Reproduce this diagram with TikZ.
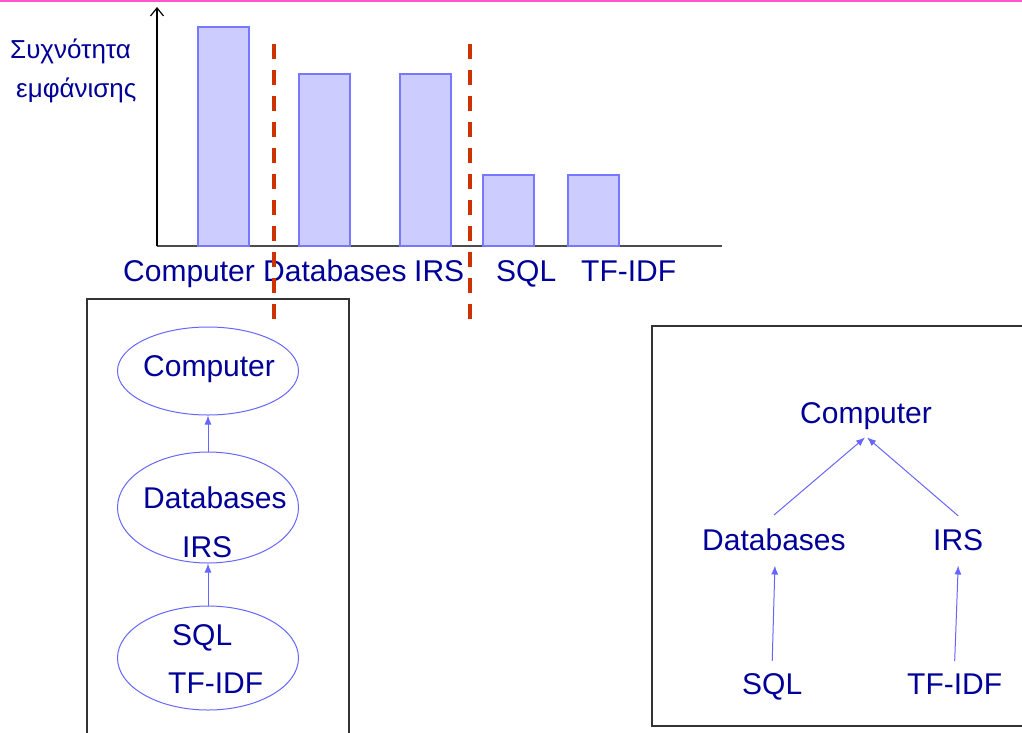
\documentclass[tikz,border=0pt]{standalone}
\usepackage{fontspec}
\setmainfont{Liberation Sans}
\usetikzlibrary{shapes.geometric,arrows.meta,calc}
\definecolor{navy}{HTML}{000099}
\definecolor{barfill}{HTML}{CCCCFF}
\definecolor{barline}{HTML}{7777FF}
\definecolor{linkblue}{HTML}{6666FF}
\definecolor{cutred}{HTML}{CC3300}
\definecolor{topline}{HTML}{FF55CC}
\tikzset{
  lbl/.style={font=\fontsize{30}{36}\selectfont, text=navy, inner sep=0pt, anchor=base west},
  greek/.style={font=\fontsize{26}{31}\selectfont, text=navy, inner sep=0pt, anchor=base west},
  bar/.style={fill=barfill, draw=barline, line width=1.2pt},
  cut/.style={draw=cutred, line width=3.5pt, dash pattern=on 15pt off 11pt},
  oval/.style={ellipse, draw=linkblue, line width=1pt, minimum width=181pt, inner sep=0pt},
  link/.style={draw=linkblue, line width=1pt, -{Latex[length=9pt,width=7pt]}},
  frame/.style={draw=black!80, line width=1.3pt},
}
\begin{document}
\begin{tikzpicture}[x=1pt,y=-1pt]
\useasboundingbox (0,0) rectangle (1022,732);
% top rule
\draw[topline, line width=2pt] (0,1) -- (1022,1);
% axes
\draw[black!70, line width=1.3pt] (157,246) -- (722,246);
\draw[black, line width=1.2pt, -{Straight Barb[length=8pt,width=13pt]}] (157,246) -- (157,7);
% bars
\draw[bar] (198,27) rectangle (249,246);
\draw[bar] (299,74) rectangle (350,246);
\draw[bar] (400,74) rectangle (451,246);
\draw[bar] (483,175) rectangle (534,246);
\draw[bar] (568,175) rectangle (619,246);
% y label
\node[greek] (yl1) at (10,58) {Συχνότητα};
\node[greek] (yl2) at (16,97) {εμφάνισης};
% x labels
\node[lbl] (xc) at (123,281) {Computer};
\node[lbl] (xd) at (263,281) {Databases};
\node[lbl] (xi) at (414,281) {IRS};
\node[lbl] (xs) at (496,281) {SQL};
\node[lbl] (xt) at (581,281) {TF-IDF};
% boxes
\draw[frame] (87,299) rectangle (349,745);
\draw[frame] (652,326) rectangle (1026,726);
% cut lines
\draw[cut] (274,44) -- (274,326);
\draw[cut] (470,44) -- (470,326);
% left: clusters
\node[oval, minimum height=88pt] (e1) at (208,371) {};
\node[oval, minimum height=111pt] (e2) at (208,507.5) {};
\node[oval, minimum height=104pt] (e3) at (208,658) {};
\node[lbl] (e1a) at (143,376) {Computer};
\node[lbl] (e2a) at (143,508) {Databases};
\node[lbl] (e2b) at (182,557) {IRS};
\node[lbl] (e3a) at (172,645) {SQL};
\node[lbl] (e3b) at (168,693) {TF-IDF};
\draw[link] (e2.north) -- (e1.south);
\draw[link] (e3.north) -- (e2.south);
% right: tree
\node[lbl] (rc) at (800,423) {Computer};
\node[lbl] (rd) at (702,550) {Databases};
\node[lbl] (ri) at (933,550) {IRS};
\node[lbl] (rs) at (742,694) {SQL};
\node[lbl] (rt) at (907,694) {TF-IDF};
\draw[link] ($(rd.north)+(0,-13)$) -- ($(rc.south)+(-1,8)$);
\draw[link] ($(ri.north)+(0,-13)$) -- ($(rc.south)+(1,8)$);
\draw[link] ($(rs.north)+(0,-12)$) -- ($(rd.south)+(1,15)$);
\draw[link] ($(rt.north)+(0,-12)$) -- ($(ri.south)+(0,15)$);
\end{tikzpicture}
\end{document}
